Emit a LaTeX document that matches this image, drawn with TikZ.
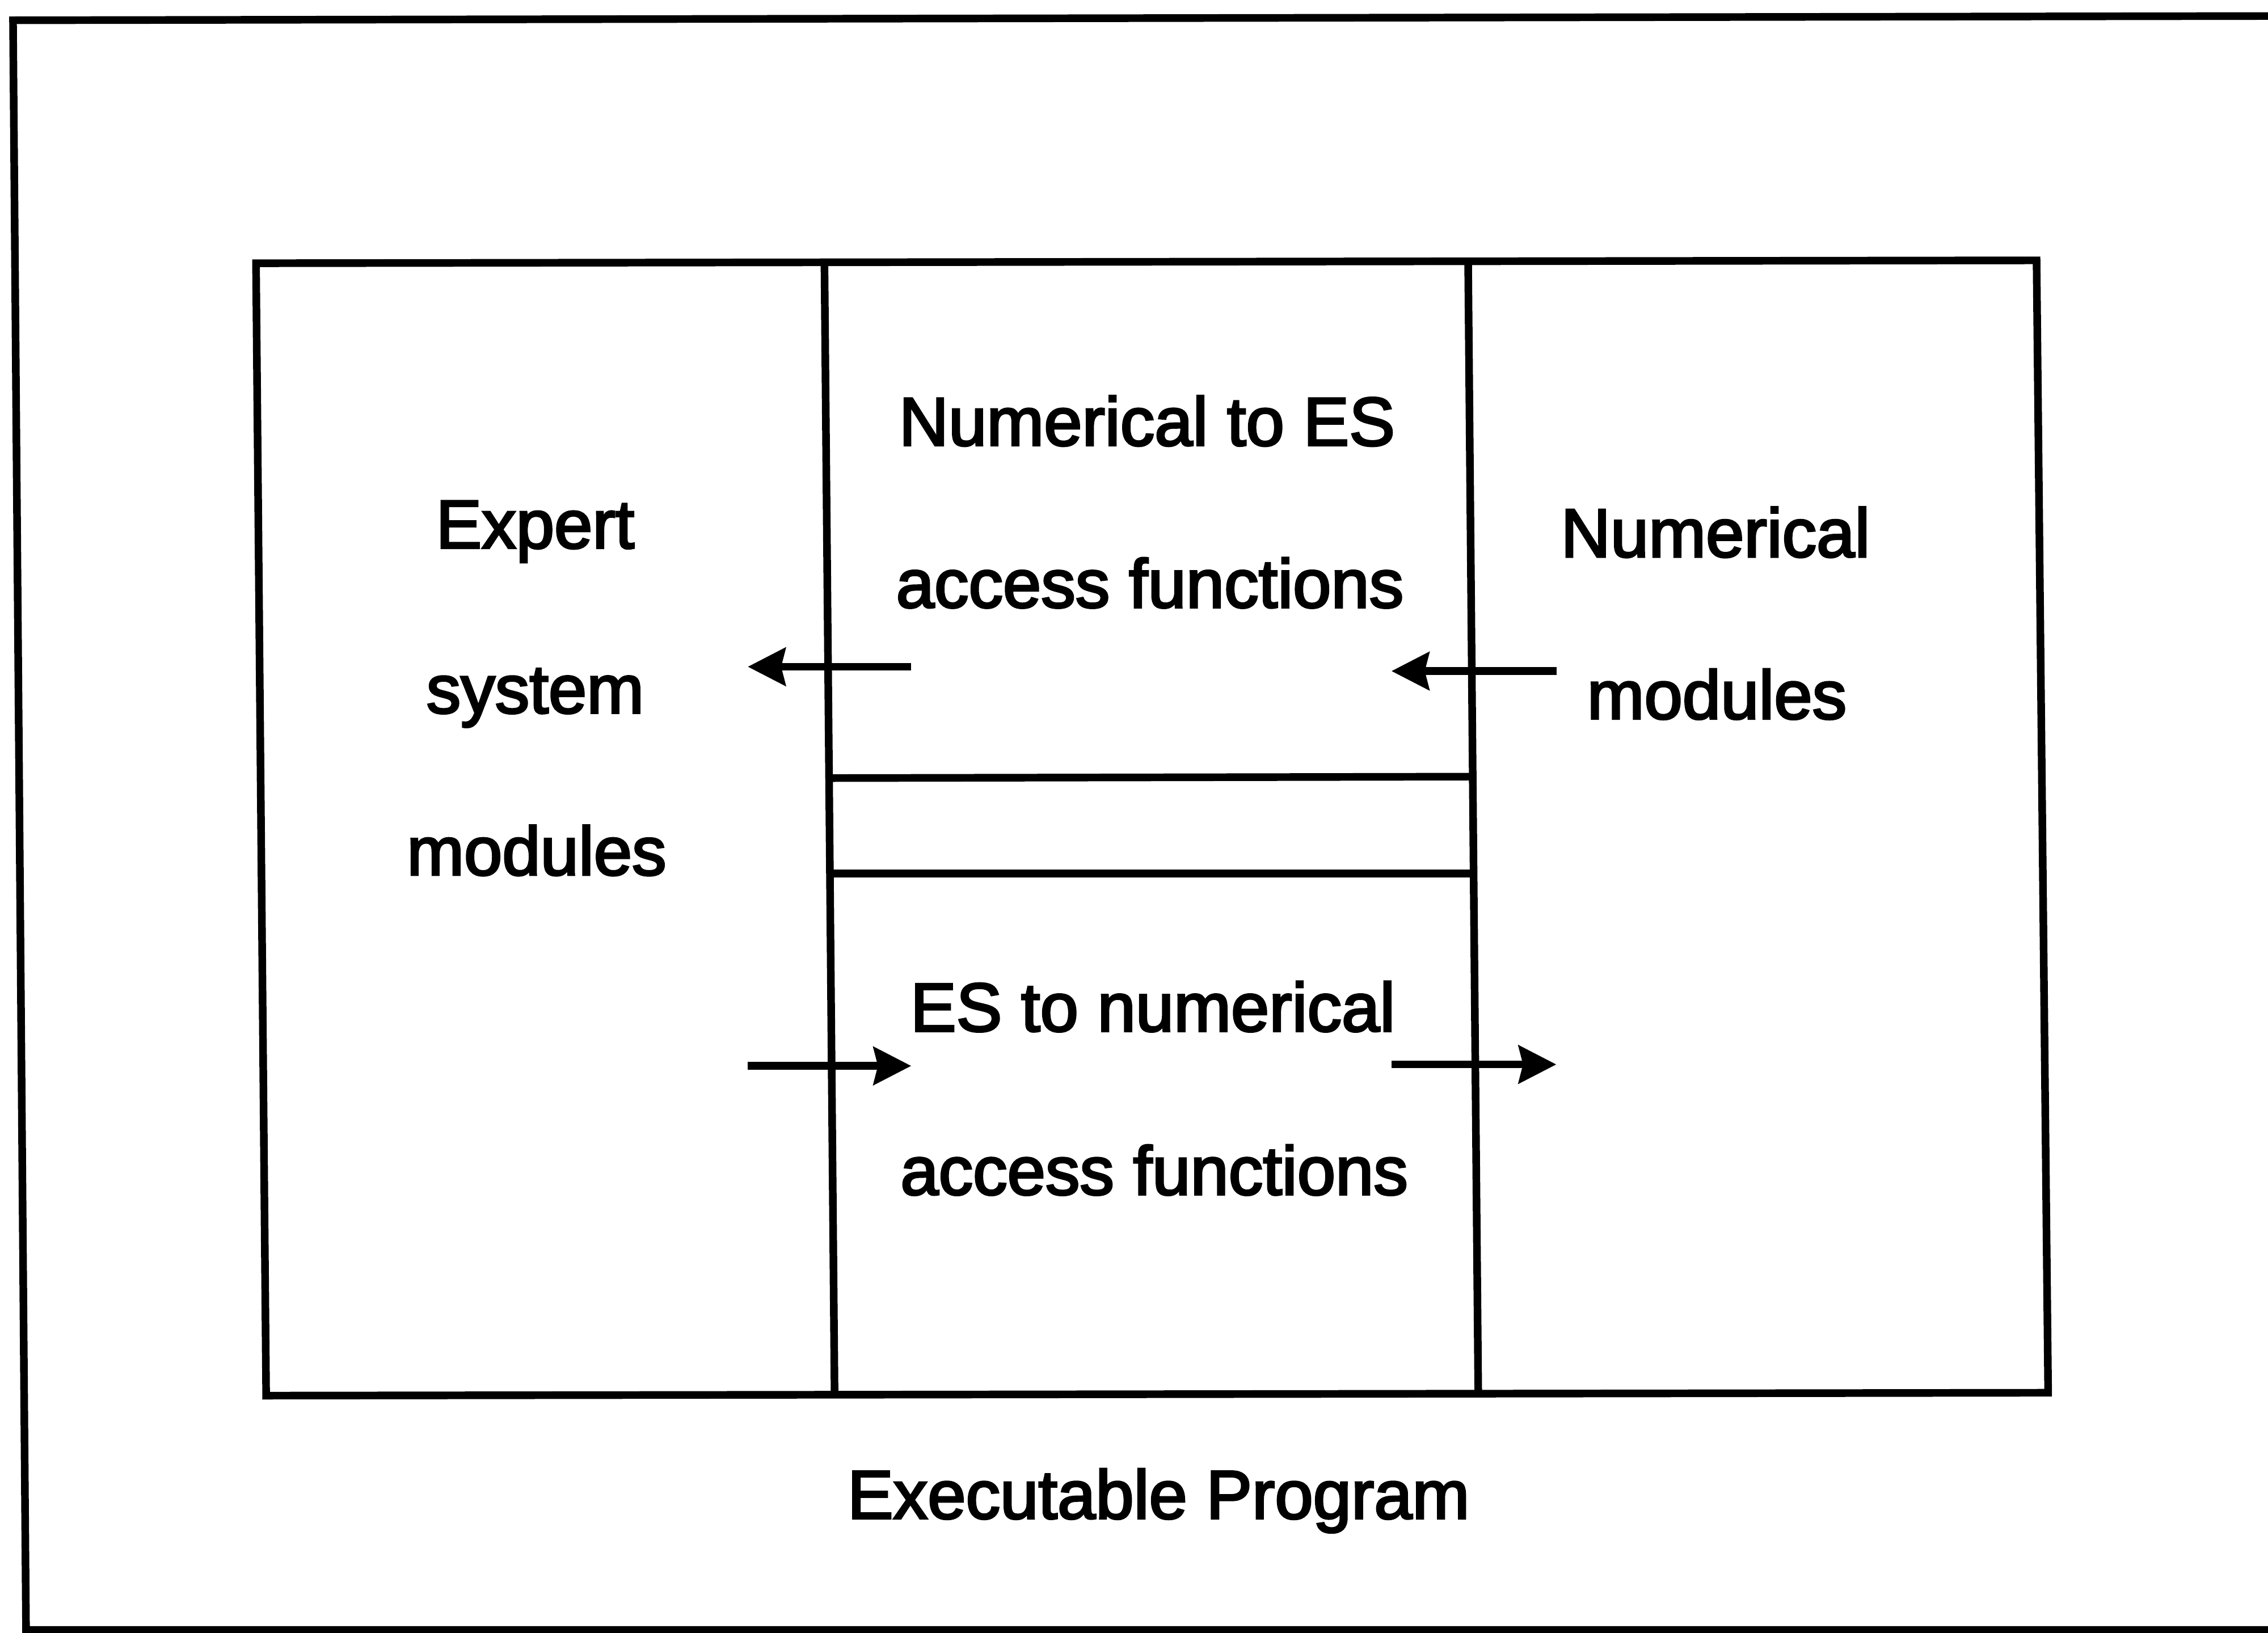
\documentclass[tikz,border=0pt]{standalone}
\usepackage{fontspec}
\setmainfont{Liberation Sans}
\newfontfamily\lblfont{Liberation Sans}[FakeBold=3]
\usetikzlibrary{arrows.meta}
\begin{document}
\begin{tikzpicture}[x=0.01cm,y=-0.01cm,
  frame/.style={line width=1.5pt,line join=miter},
  flow/.style={line width=1.5pt,-{Stealth[length=0.26cm,width=0.26cm,inset=0.03cm]}},
  lbl/.style={font=\lblfont\fontsize{13.5}{16}\selectfont,anchor=base,inner sep=0pt}]
\useasboundingbox (0,0) rectangle (1568,1129);
\clip (0,0) rectangle (1568,1129);
% outer frame (open at right, cut by the page)
\draw[frame] (1600,11) -- (9,14) -- (18,1127) -- (1600,1127);
% inner box
\coordinate (tl) at (177,182);
\coordinate (tr) at (1408,180);
\coordinate (br) at (1416,963);
\coordinate (bl) at (184,965);
\draw[frame] (tl) -- (tr) -- (br) -- (bl) -- cycle;
% dividers
\coordinate (d1t) at (570,183);
\coordinate (d1b) at (577,964);
\coordinate (d2t) at (1015,181);
\coordinate (d2b) at (1022,963);
\draw[frame] (d1t) -- (d1b);
\draw[frame] (d2t) -- (d2b);
\coordinate (h1l) at (573,538);
\coordinate (h1r) at (1018,537);
\coordinate (h2l) at (575,604);
\coordinate (h2r) at (1019,604);
\draw[frame] (h1l) -- (h1r);
\draw[frame] (h2l) -- (h2r);
% arrows
\coordinate (a1s) at (630,461); \coordinate (a1e) at (517,461);
\coordinate (a2s) at (1076,464); \coordinate (a2e) at (962,464);
\coordinate (a3s) at (517,737); \coordinate (a3e) at (630,737);
\coordinate (a4s) at (962,736); \coordinate (a4e) at (1076,736);
\draw[flow] (a1s) -- (a1e);
\draw[flow] (a2s) -- (a2e);
\draw[flow] (a3s) -- (a3e);
\draw[flow] (a4s) -- (a4e);
% labels
\node[lbl] (n2es1) at (793,308) {Numerical to ES};
\node[lbl] (n2es2) at (795,420) {access functions};
\node[lbl] (es1) at (370,379) {Expert};
\node[lbl] (es2) at (370,493) {system};
\node[lbl] (es3) at (371,605) {modules};
\node[lbl] (nm1) at (1186,385) {Numerical};
\node[lbl] (nm2) at (1187,497) {modules};
\node[lbl] (es2n1) at (797,713) {ES to numerical};
\node[lbl] (es2n2) at (798,826) {access functions};
\node[lbl] (exe) at (801,1050) {Executable Program};
\end{tikzpicture}
\end{document}
